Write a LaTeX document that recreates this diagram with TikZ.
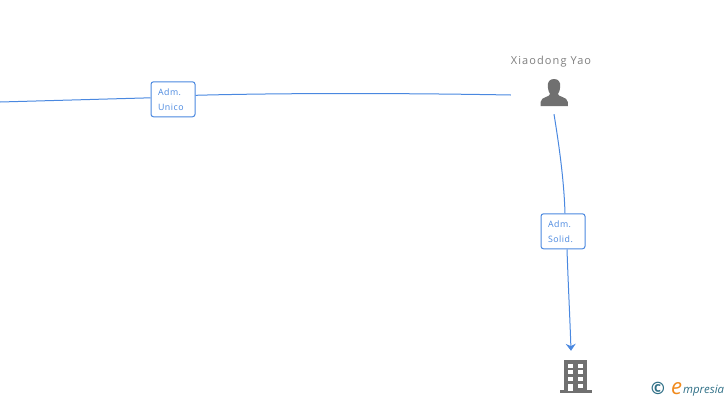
\documentclass[tikz,border=0pt]{standalone}
\usepackage{fontspec}
\setmainfont{Open Sans}
\usetikzlibrary{arrows.meta,positioning}
\definecolor{linkblue}{HTML}{4A88E0}
\definecolor{icongrey}{HTML}{707070}
\definecolor{logoteal}{HTML}{2F6F86}
\definecolor{logoorange}{HTML}{F08A1D}

\begin{document}
\begin{tikzpicture}[x=1pt, y=-1pt,
    rolebox/.style={rectangle, draw=linkblue, line width=1pt, fill=white, rounded corners=2.5pt, text=linkblue, font=\fontsize{8.8}{15}\selectfont\addfontfeature{LetterSpace=6}, align=left, text width=30pt, inner xsep=7pt, inner ysep=0pt, minimum height=35pt},
    icon/.style={rectangle, minimum width=86pt, minimum height=38pt, inner sep=0pt},
    personname/.style={text=icongrey!90, font=\fontsize{11}{13}\selectfont\addfontfeature{LetterSpace=10}, inner sep=0pt},
    link/.style={draw=linkblue, line width=1pt},
    arrow/.style={link, -{Stealth[length=7pt, width=10pt]}}]

    \useasboundingbox (0,0) rectangle (728,400);

    \node[icon] (yao) at (554,95) {};
    \node[personname, above=28pt of yao.center, xshift=-3pt] (yaoname) {Xiaodong Yao};
    \node[icon, minimum width=32pt, minimum height=52pt] (company) at (571,377) {};
    \node[rolebox] (unico) at (173,99.3) {Adm.\\Unico};
    \node[rolebox] (solid) at (563,231.3) {Adm.\\Solid.};
    \coordinate (leftend) at (0,102);

    % person icon
    \fill[icongrey] (554,79) .. controls (549.5,79) and (547.5,82) .. (547.8,86.5)
        .. controls (548.2,90.5) and (549,92.5) .. (550,94)
        .. controls (550.5,97) and (541,96.5) .. (540.6,102)
        -- (540.6,106) -- (567.8,106) -- (567.8,102)
        .. controls (567.4,96.5) and (557.5,97) .. (558,94)
        .. controls (559,92.5) and (559.8,90.5) .. (560.2,86.5)
        .. controls (560.5,82) and (558.5,79) .. (554,79) -- cycle;

    % building icon
    \fill[icongrey] (564,360) rectangle (587,391);
    \fill[icongrey] (560,390) rectangle (592,393);
    \foreach \wy in {363.5,370.3,377.2,384} {
        \fill[white] (568,\wy) rectangle ++(5.3,4);
        \fill[white] (578,\wy) rectangle ++(5.3,4);
    }
    \fill[white] (568,384) rectangle (573.3,391);

    \draw[link] (leftend) -- ([yshift=1.5pt]unico.west);
    \draw[link] ([yshift=4pt]unico.east) .. controls (280,93) and (400,93) .. (yao.west);
    \draw[link] (yao.south) .. controls (559,145) and (564,180) .. ([xshift=2pt]solid.north);
    \draw[arrow] ([xshift=4pt]solid.south) .. controls (568,280) and (570,320) .. (company.north);

    % logo
    \node[anchor=base, inner sep=0pt, text=logoteal, font=\fontsize{17}{17}\bfseries\selectfont] (copyright) at (658,394) {©};
    \node[anchor=base west, inner sep=0pt, text=logoorange, font=\fontsize{22}{22}\itshape\selectfont] (logoe) at (671,394) {e};
    \node[anchor=base west, inner sep=0pt, text=logoteal, font=\fontsize{11.4}{12}\itshape\selectfont] (logotext) at (683,393) {mpresia};
\end{tikzpicture}
\end{document}
